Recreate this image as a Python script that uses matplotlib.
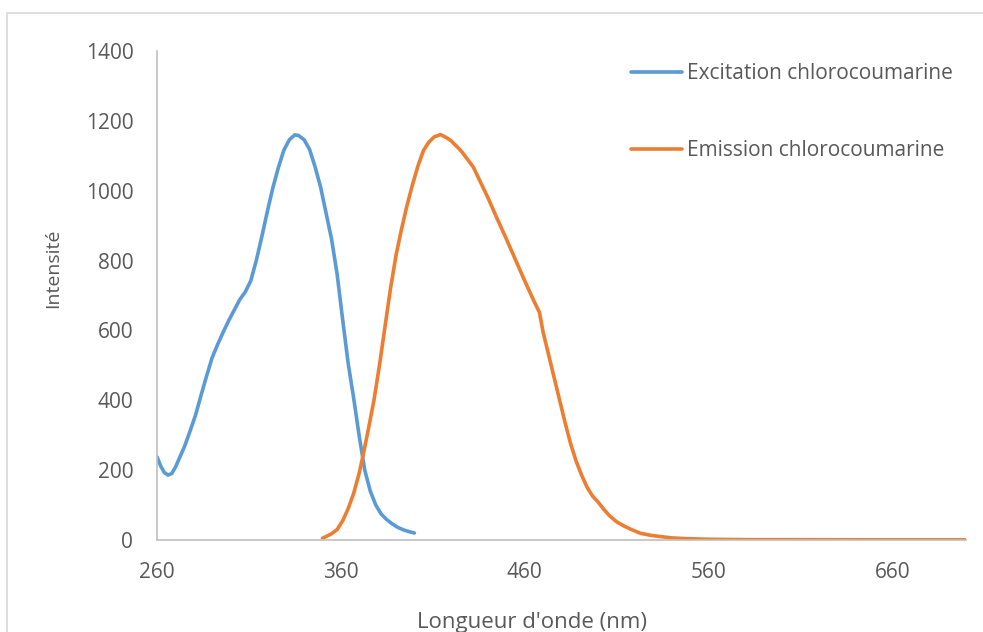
import matplotlib
matplotlib.use("Agg")
import matplotlib.pyplot as plt
from matplotlib.patches import Rectangle

plt.rcParams['font.family'] = ['Open Sans', 'DejaVu Sans']

# excitation spectrum (nm, intensity)
exc_nm = [260, 262, 264, 266, 268, 270, 272, 275, 278, 281, 284, 287, 290, 293, 296,
          299, 302, 305, 308, 311, 314, 317, 320, 323, 326, 329, 332, 335, 337, 340,
          343, 346, 349, 352, 355, 358, 361, 364, 367, 370, 373, 376, 379, 382, 385,
          388, 391, 394, 397, 400]
exc_val = [238, 212, 193, 186, 190, 208, 232, 268, 312, 358, 415, 470, 522, 560, 595,
           628, 658, 688, 710, 742, 800, 868, 940, 1008, 1066, 1116, 1146, 1160, 1158, 1146,
           1118, 1068, 1010, 935, 860, 760, 630, 505, 405, 297, 200, 140, 100, 74, 58,
           46, 36, 29, 24, 20]

# emission spectrum (nm, intensity)
em_nm = [350, 352, 355, 358, 361, 364, 367, 370, 372, 375, 378, 381, 384, 387, 390,
         393, 396, 399, 402, 405, 408, 411, 413, 414, 416, 418, 420, 422, 424, 426,
         428, 430, 432, 435, 440, 445, 450, 455, 460, 465, 468, 470, 473, 476, 479,
         482, 485, 488, 491, 494, 497, 500, 503, 506, 510, 514, 518, 523, 529, 535,
         540, 547, 560, 580, 600, 650, 700]
em_val = [5, 10, 18, 30, 55, 90, 134, 192, 240, 318, 400, 500, 610, 720, 815,
          890, 958, 1018, 1072, 1116, 1140, 1155, 1158, 1161, 1156, 1150, 1143, 1132, 1122, 1110,
          1096, 1082, 1068, 1035, 980, 920, 862, 802, 742, 684, 652, 595, 530, 465, 400,
          335, 275, 225, 185, 150, 125, 108, 88, 70, 52, 40, 30, 19, 13, 9,
          6, 4, 2, 1, 1, 0.5, 0.5]

txt = '#595959'

fig = plt.figure(figsize=(9.83, 6.32), dpi=100)
ax = fig.add_axes([0.1597, 0.1456, 0.823, 0.7737])

ax.plot(exc_nm, exc_val, color='#5B9BD5', lw=2.6, label='Excitation chlorocoumarine',
        solid_capstyle='round')
ax.plot(em_nm, em_val, color='#ED7D31', lw=2.6, label='Emission chlorocoumarine',
        solid_capstyle='round')

ax.set_xlim(260, 700)
ax.set_ylim(0, 1400)
ax.set_xticks([260, 360, 460, 560, 660])
ax.set_yticks(range(0, 1401, 200))

for s in ['top', 'right']:
    ax.spines[s].set_visible(False)
for s in ['left', 'bottom']:
    ax.spines[s].set_color('#bfbfbf')
    ax.spines[s].set_linewidth(1.2)

ax.tick_params(axis='both', length=0, labelsize=15, colors=txt)
ax.tick_params(axis='y', pad=17)
ax.tick_params(axis='x', pad=16)

ax.set_xlabel("Longueur d'onde (nm)", fontsize=16, color=txt)
ax.xaxis.set_label_coords(0.4635, -0.148)
ax.set_ylabel("Intensité", fontsize=14, color=txt)
ax.yaxis.set_label_coords(-0.117, 0.556)

leg = ax.legend(loc='upper left', bbox_to_anchor=(0.5624, 1.0137), frameon=False,
                fontsize=15, labelspacing=2.68, handlelength=2.45, handletextpad=0.24,
                labelcolor=txt)

fig.patches.append(Rectangle((0.0071, -0.1), 1.1, 1.0794, transform=fig.transFigure,
                             fill=False, edgecolor='#d9d9d9', lw=1.2))

fig.savefig('out.png', dpi=100)
